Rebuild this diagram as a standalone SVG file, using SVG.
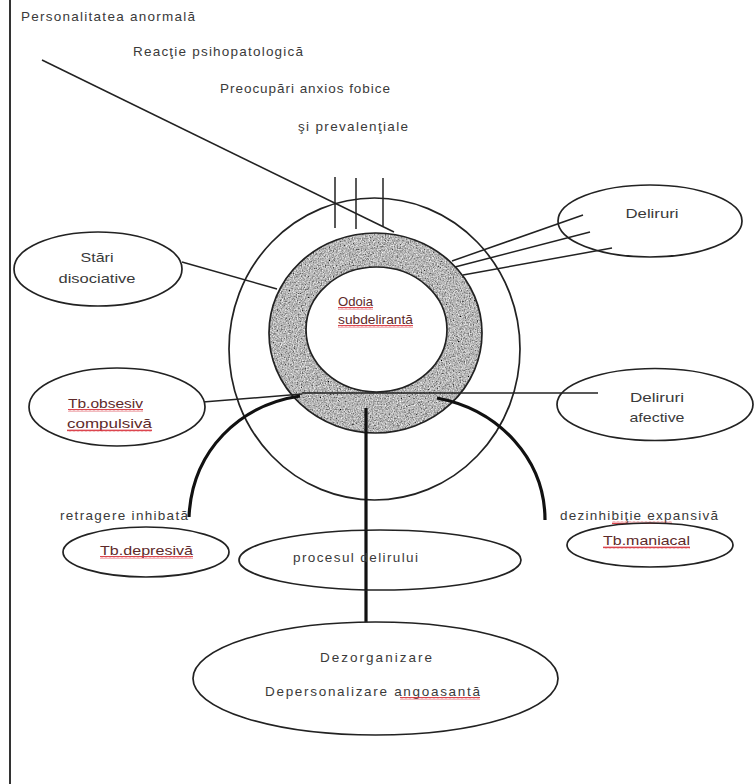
<svg xmlns="http://www.w3.org/2000/svg" width="755" height="784" viewBox="0 0 755 784">
<style>
  .t{font-family:"Liberation Sans",Arial,sans-serif;font-size:13.5px;fill:#3a3a3a}
  .r{fill:#5e2a2a}
  .n{fill:#fff;stroke:#222;stroke-width:1.7}
  .c{fill:none;stroke:#222;stroke-width:1.5}
  .k{fill:none;stroke:#111;stroke-width:3.2}
  .sq{fill:url(#squig)}
</style>
<defs>
  <pattern id="squig" patternUnits="userSpaceOnUse" width="4" height="3">
    <path d="M0,2.4 L1,0.6 L2,2.4 L3,0.6 L4,2.4" fill="none" stroke="#d8303a" stroke-width="0.9"/>
  </pattern>
  <filter id="grain" x="0" y="0" width="1" height="1">
    <feTurbulence type="fractalNoise" baseFrequency="0.75" numOctaves="2" seed="5"/>
    <feColorMatrix type="matrix" values="0.33 0.33 0.33 0 0  0.33 0.33 0.33 0 0  0.33 0.33 0.33 0 0  0 0 0 0 1"/>
    <feComponentTransfer>
      <feFuncR type="linear" slope="2.2" intercept="-0.62"/>
      <feFuncG type="linear" slope="2.2" intercept="-0.62"/>
      <feFuncB type="linear" slope="2.2" intercept="-0.62"/>
    </feComponentTransfer>
    <feComposite in2="SourceGraphic" operator="in"/>
  </filter>
</defs>
<rect width="755" height="784" fill="#fff"/>
<line x1="10" y1="0" x2="10" y2="784" stroke="#333" stroke-width="2"/>

<g id="top-labels">
  <text class="t" x="21" y="21" textLength="174" lengthAdjust="spacing">Personalitatea anormală</text>
  <text class="t" x="133" y="56" textLength="170" lengthAdjust="spacing">Reacţie psihopatologică</text>
  <text class="t" x="220" y="93" textLength="170" lengthAdjust="spacing">Preocupări anxios fobice</text>
  <text class="t" x="298" y="131" textLength="110" lengthAdjust="spacing">şi prevalenţiale</text>
</g>

<g id="outer-circle">
  <ellipse cx="374.5" cy="349" rx="145.5" ry="151" fill="none" stroke="#222" stroke-width="1.7"/>
</g>

<g id="core">
  <path d="M269,333 a106.5,100 0 1,0 213,0 a106.5,100 0 1,0 -213,0 Z M306,329.5 a70.5,62.5 0 1,0 141,0 a70.5,62.5 0 1,0 -141,0 Z" fill-rule="evenodd" fill="#888" filter="url(#grain)"/>
  <ellipse cx="375.5" cy="333" rx="106.5" ry="100" fill="none" stroke="#222" stroke-width="1.7"/>
  <ellipse cx="376.5" cy="329.5" rx="70.5" ry="62.5" fill="none" stroke="#222" stroke-width="1.7"/>
  <text class="t r" x="338" y="306" textLength="35" lengthAdjust="spacingAndGlyphs">Odoia</text>
  <rect class="sq" x="338" y="307" width="35" height="3"/>
  <text class="t r" x="338" y="324" textLength="75" lengthAdjust="spacingAndGlyphs">subdelirantă</text>
  <rect class="sq" x="338" y="325" width="75" height="3"/>
</g>

<g id="connectors">
  <line class="c" x1="42" y1="60" x2="394" y2="232"/>
  <line class="c" x1="335" y1="177" x2="335" y2="228"/>
  <line class="c" x1="356" y1="178" x2="356" y2="229"/>
  <line class="c" x1="383" y1="178" x2="383" y2="226"/>
  <line class="c" x1="452" y1="261" x2="583" y2="215"/>
  <line class="c" x1="455" y1="267" x2="590" y2="232"/>
  <line class="c" x1="463" y1="275" x2="612" y2="248"/>
  <line class="c" x1="182" y1="262" x2="277" y2="289"/>
  <line class="c" x1="203" y1="402" x2="302" y2="394"/>
  <line class="c" x1="302" y1="393" x2="598" y2="393"/>
  <path class="k" d="M300,396 C240,405 192,450 189,517"/>
  <path class="k" d="M437,398 C500,410 545,460 545,520"/>
  <line class="k" x1="366" y1="408" x2="366" y2="623"/>
</g>

<g id="deliruri">
  <ellipse cx="650" cy="221" rx="92" ry="36" fill="none" stroke="#222" stroke-width="1.7"/>
  <text class="t" x="652" y="218" text-anchor="middle" textLength="53" lengthAdjust="spacingAndGlyphs">Deliruri</text>
</g>

<g id="deliruri-afective">
  <ellipse cx="655" cy="404.5" rx="98" ry="36" fill="none" stroke="#222" stroke-width="1.7"/>
  <text class="t" x="657" y="402" text-anchor="middle" textLength="54" lengthAdjust="spacingAndGlyphs">Deliruri</text>
  <text class="t" x="657" y="422" text-anchor="middle" textLength="55" lengthAdjust="spacingAndGlyphs">afective</text>
</g>

<g id="stari-disociative">
  <ellipse class="n" cx="98" cy="269" rx="84" ry="37"/>
  <text class="t" x="97" y="262" text-anchor="middle" textLength="33" lengthAdjust="spacingAndGlyphs">Stări</text>
  <text class="t" x="97" y="283" text-anchor="middle" textLength="77" lengthAdjust="spacingAndGlyphs">disociative</text>
</g>

<g id="tb-obsesiv">
  <ellipse class="n" cx="117" cy="407" rx="88" ry="39"/>
  <text class="t r" x="68" y="408" textLength="75" lengthAdjust="spacingAndGlyphs">Tb.obsesiv</text>
  <rect class="sq" x="68" y="409" width="75" height="3"/>
  <text class="t r" x="67" y="428" textLength="85" lengthAdjust="spacingAndGlyphs">compulsivă</text>
  <rect class="sq" x="67" y="429" width="85" height="3"/>
</g>

<g id="tb-depresiva">
  <text class="t" x="60" y="520" textLength="128" lengthAdjust="spacing">retragere inhibată</text>
  <ellipse class="n" cx="146" cy="552" rx="83" ry="25"/>
  <text class="t r" x="100" y="555" textLength="93" lengthAdjust="spacingAndGlyphs">Tb.depresivă</text>
  <rect class="sq" x="100" y="556" width="93" height="3"/>
</g>

<g id="procesul-delirului">
  <ellipse class="n" cx="380" cy="560" rx="141" ry="30"/>
  <line x1="366" y1="530" x2="366" y2="590" stroke="#111" stroke-width="3.2"/>
  <text class="t" x="293" y="562" textLength="125" lengthAdjust="spacing">procesul delirului</text>
</g>

<g id="tb-maniacal">
  <text class="t" x="560" y="520" textLength="158" lengthAdjust="spacing">dezinhibiţie expansivă</text>
  <rect class="sq" x="612" y="521" width="60" height="3"/>
  <ellipse cx="650" cy="545" rx="83" ry="22" fill="none" stroke="#222" stroke-width="1.7"/>
  <text class="t r" x="603" y="545" textLength="87" lengthAdjust="spacingAndGlyphs">Tb.maniacal</text>
  <rect class="sq" x="603" y="546" width="87" height="3"/>
</g>

<g id="dezorganizare">
  <ellipse class="n" cx="375.5" cy="678.5" rx="182.5" ry="56.5"/>
  <text class="t" x="320" y="662" textLength="112" lengthAdjust="spacing">Dezorganizare</text>
  <text class="t" x="265" y="696" textLength="215" lengthAdjust="spacing">Depersonalizare angoasantă</text>
  <rect class="sq" x="400" y="697" width="80" height="3"/>
</g>
</svg>
